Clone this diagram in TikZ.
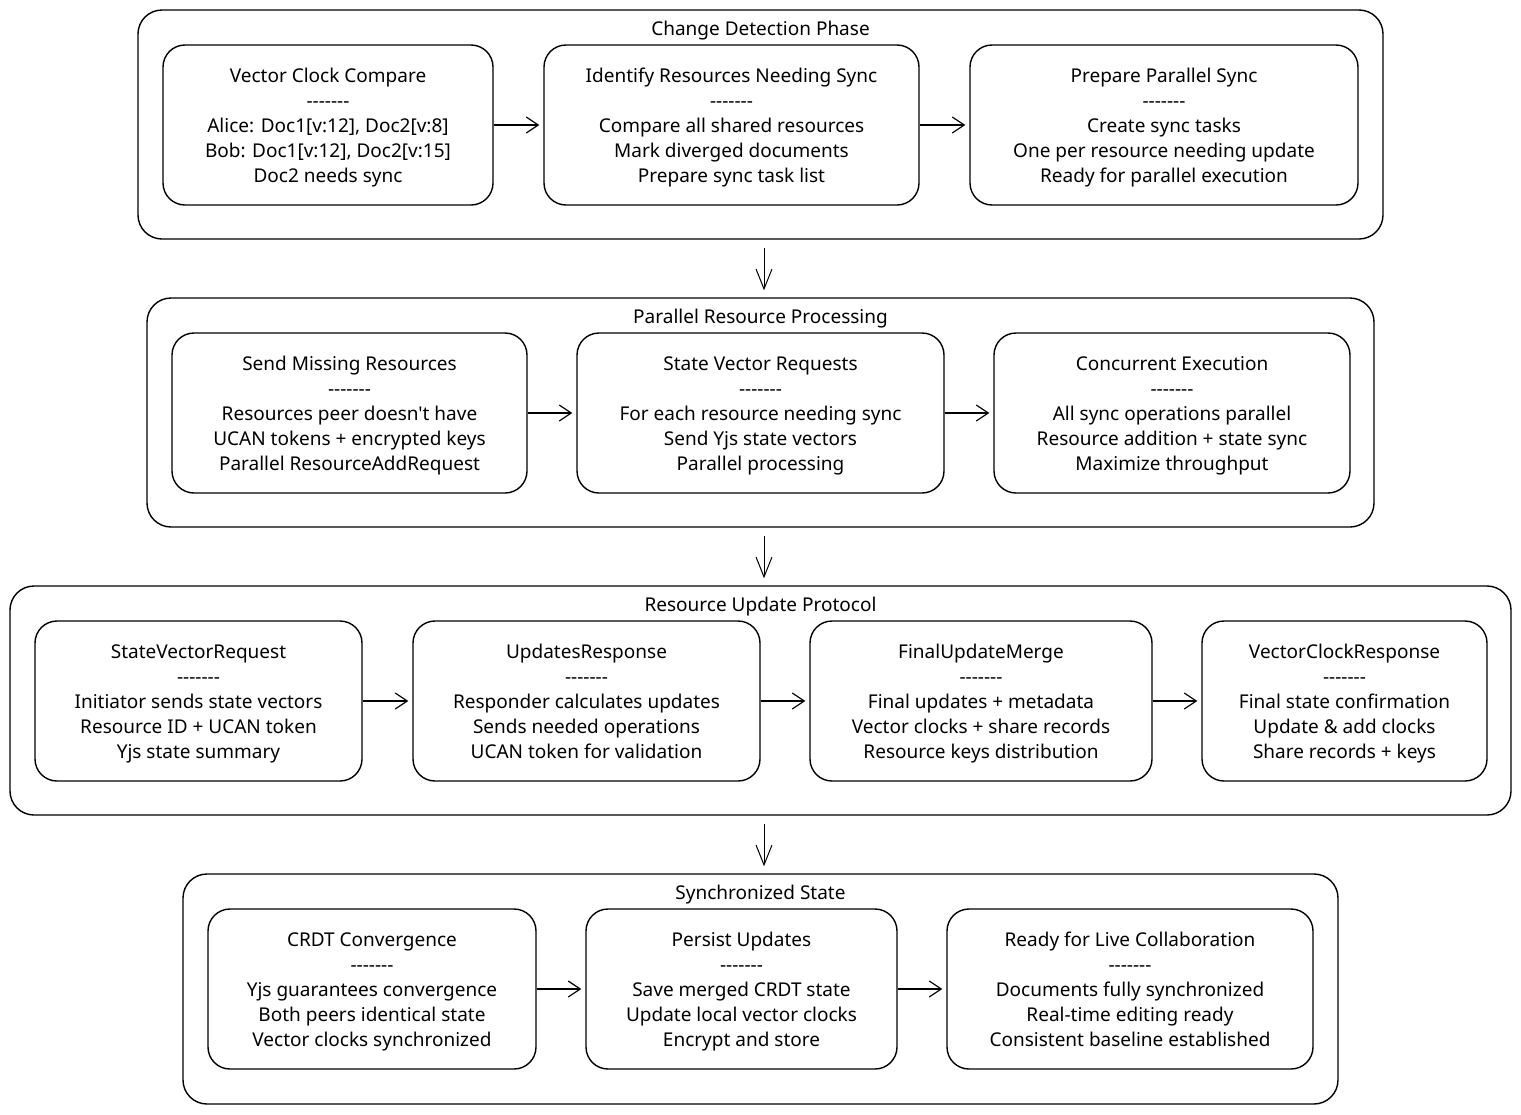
\documentclass[tikz,border=0pt]{standalone}
\usepackage{fontspec}
\setmainfont{Noto Sans}[Ligatures=TeXOff]
\usetikzlibrary{arrows.meta}

\newcommand\topgap{\rule{0pt}{21.5pt}}

\tikzset{
  phase/.style={draw, rounded corners=24pt, line width=1.4pt, inner sep=0pt},
  stepbox/.style={draw, rounded corners=22pt, line width=1.4pt, inner sep=0pt,
    minimum height=160pt, align=center, font=\fontsize{19}{25}\selectfont},
  title/.style={font=\fontsize{19}{22}\selectfont},
  flow/.style={-{Straight Barb[length=12pt,width=16pt,line width=1.2pt]},
    line width=1.2pt, shorten >=4pt},
  down/.style={-{Straight Barb[length=20pt,width=16pt,line width=1pt]},
    line width=1pt, shorten <=8pt, shorten >=7pt}
}

\begin{document}
\begin{tikzpicture}[x=1pt, y=-1pt]

  \useasboundingbox (0,0) rectangle (1521,1114);

  %% containers
  \node[phase, minimum width=1245pt, minimum height=229pt] (p1) at (760.5,124.5) {};
  \node[phase, minimum width=1227pt, minimum height=229pt] (p2) at (760.5,412.5) {};
  \node[phase, minimum width=1501pt, minimum height=229pt] (p3) at (760.5,700.5) {};
  \node[phase, minimum width=1155pt, minimum height=230pt] (p4) at (760.5,989) {};

  \node[title] (t1) at (760.5,31) {Change Detection Phase};
  \node[title] (t2) at (760.5,319) {Parallel Resource Processing};
  \node[title] (t3) at (760.5,607) {Resource Update Protocol};
  \node[title] (t4) at (760.5,895) {Synchronized State};

  %% change detection
  \node[stepbox, minimum width=330pt] (vcc) at (328,125)
  {\topgap Vector Clock Compare\\-------\\Alice: Doc1[v:12], Doc2[v:8]\\Bob: Doc1[v:12], Doc2[v:15]\\Doc2 needs sync\strut};
  \node[stepbox, minimum width=375pt] (irs) at (731.5,125)
  {\topgap Identify Resources Needing Sync\\-------\\Compare all shared resources\\Mark diverged documents\\Prepare sync task list\strut};
  \node[stepbox, minimum width=388pt] (pps) at (1164,125)
  {\topgap Prepare Parallel Sync\\-------\\Create sync tasks\\One per resource needing update\\Ready for parallel execution\strut};

  %% parallel processing
  \node[stepbox, minimum width=355pt] (smr) at (349.5,413)
  {\topgap Send Missing Resources\\-------\\Resources peer doesn't have\\UCAN tokens + encrypted keys\\Parallel ResourceAddRequest\strut};
  \node[stepbox, minimum width=367pt] (svr) at (760.5,413)
  {\topgap State Vector Requests\\-------\\For each resource needing sync\\Send Yjs state vectors\\Parallel processing\strut};
  \node[stepbox, minimum width=356pt] (cex) at (1172,413)
  {\topgap Concurrent Execution\\-------\\All sync operations parallel\\Resource addition + state sync\\Maximize throughput\strut};

  %% update protocol
  \node[stepbox, minimum width=327pt] (sreq) at (198.5,701)
  {\topgap StateVectorRequest\\-------\\Initiator sends state vectors\\Resource ID + UCAN token\\Yjs state summary\strut};
  \node[stepbox, minimum width=347pt] (ures) at (586.5,701)
  {\topgap UpdatesResponse\\-------\\Responder calculates updates\\Sends needed operations\\UCAN token for validation\strut};
  \node[stepbox, minimum width=342pt] (fum) at (981,701)
  {\topgap FinalUpdateMerge\\-------\\Final updates + metadata\\Vector clocks + share records\\Resource keys distribution\strut};
  \node[stepbox, minimum width=285pt] (vcr) at (1344.5,701)
  {\topgap VectorClockResponse\\-------\\Final state confirmation\\Update \& add clocks\\Share records + keys\strut};

  %% synchronized state
  \node[stepbox, minimum width=328pt] (crdt) at (372,989)
  {\topgap CRDT Convergence\\-------\\Yjs guarantees convergence\\Both peers identical state\\Vector clocks synchronized\strut};
  \node[stepbox, minimum width=311pt] (pu) at (741.5,989)
  {\topgap Persist Updates\\-------\\Save merged CRDT state\\Update local vector clocks\\Encrypt and store\strut};
  \node[stepbox, minimum width=366pt] (rlc) at (1130,989)
  {\topgap Ready for Live Collaboration\\-------\\Documents fully synchronized\\Real-time editing ready\\Consistent baseline established\strut};

  %% arrows
  \draw[flow] (vcc) -- (irs);
  \draw[flow] (irs) -- (pps);
  \draw[flow] (smr) -- (svr);
  \draw[flow] (svr) -- (cex);
  \draw[flow] (sreq) -- (ures);
  \draw[flow] (ures) -- (fum);
  \draw[flow] (fum) -- (vcr);
  \draw[flow] (crdt) -- (pu);
  \draw[flow] (pu) -- (rlc);

  \draw[down] ([xshift=3.5pt]p1.south) -- ([xshift=3.5pt]p2.north);
  \draw[down] ([xshift=3.5pt]p2.south) -- ([xshift=3.5pt]p3.north);
  \draw[down] ([xshift=3.5pt]p3.south) -- ([xshift=3.5pt]p4.north);

\end{tikzpicture}
\end{document}
